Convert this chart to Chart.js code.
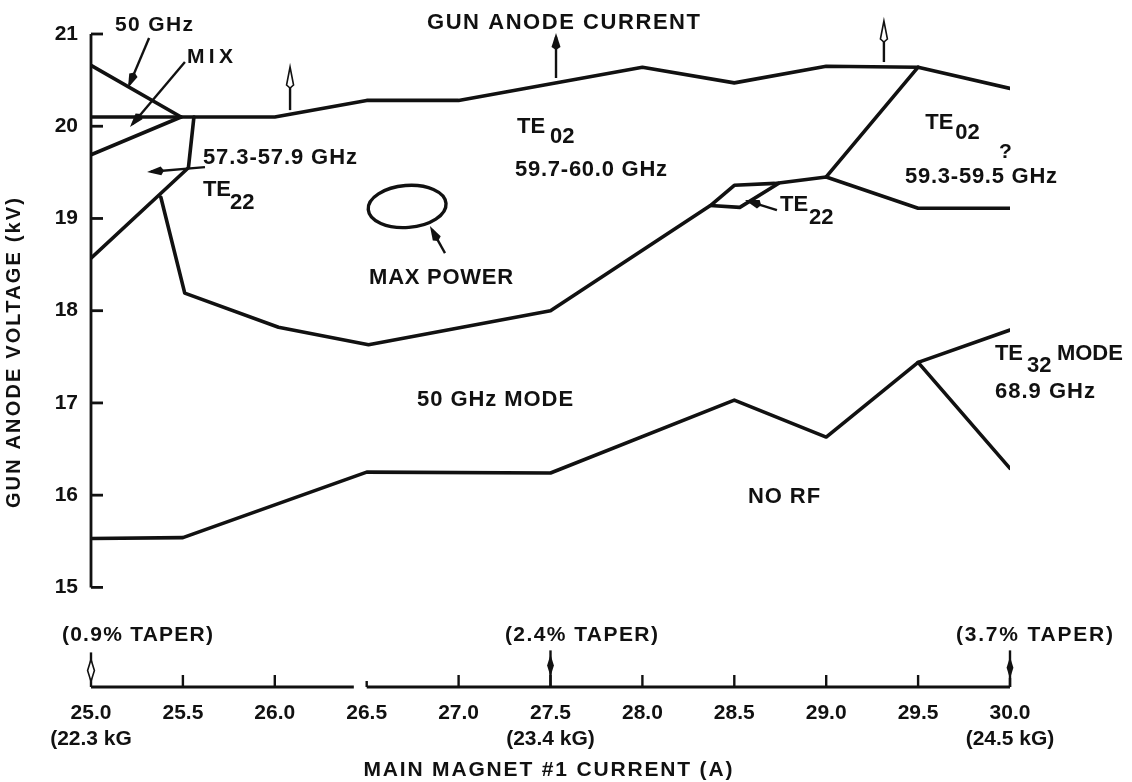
<!DOCTYPE html>
<html>
<head>
<meta charset="utf-8">
<script src="https://cdn.jsdelivr.net/npm/chart.js@4.4.1/dist/chart.umd.min.js"></script>
<style>
html,body{margin:0;padding:0;background:#fff;}
#wrap{width:1132px;height:782px;position:relative;}
</style>
</head>
<body>
<div id="wrap"><canvas id="c" width="1132" height="782"></canvas></div>
<script>
// ---------------- data ----------------
const xTicks = [25.0, 25.5, 26.0, 26.5, 27.0, 27.5, 28.0, 28.5, 29.0, 29.5, 30.0];
const yTicks = [15, 16, 17, 18, 19, 20, 21];
const kgTickValues = [25.0, 27.5, 30.0];
const kgTickLabels = ['(22.3 kG', '(23.4 kG)', '(24.5 kG)'];

// gun anode current limit (top boundary)
const anodeLimitA = [25.0, 26.0, 26.5, 27.0, 28.0, 28.5, 29.0, 29.5, 30.0];
const anodeLimitV = [20.10, 20.10, 20.28, 20.28, 20.64, 20.47, 20.65, 20.64, 20.41];
// 50 GHz / MIX boundaries (upper left)
const ghz50A = [25.0, 25.49];
const ghz50V = [20.66, 20.10];
const mixA = [25.0, 25.49];
const mixV = [19.69, 20.10];
// TE22 (57.3-57.9 GHz) boundary
const te22A = [25.56, 25.53, 25.0];
const te22V = [20.10, 19.55, 18.57];
// lower boundary of TE02 region
const te02LowA = [25.38, 25.51, 26.02, 26.51, 27.5, 28.37, 28.5, 28.72, 29.0, 29.5, 30.0];
const te02LowV = [19.23, 18.19, 17.82, 17.63, 18.0, 19.14, 19.36, 19.38, 19.45, 19.11, 19.11];
// small TE22 loop
const te22LoopA = [28.37, 28.53, 28.74];
const te22LoopV = [19.14, 19.12, 19.38];
// TE02 (59.7-60.0) / TE02 ? (59.3-59.5) divider
const te02SplitA = [29.0, 29.5];
const te02SplitV = [19.45, 20.64];
// 50 GHz mode / no RF boundary and TE32 mode
const noRfA = [25.0, 25.5, 26.5, 27.5, 28.5, 29.0, 29.5, 30.0];
const noRfV = [15.53, 15.54, 16.25, 16.24, 17.03, 16.63, 17.44, 17.79];
const te32A = [29.5, 30.0];
const te32V = [17.44, 16.29];

const Y_MIN = 13.92, Y_MAX = 21, X_MIN = 25, X_MAX = 30;

// ---------------- helpers ----------------
const FONT = '"Liberation Sans", Arial, Helvetica, sans-serif';
const INK = '#111';
function pts(a, v) { return a.map((x, i) => ({ x: x, y: v[i] })); }
function ds(label, a, v) {
  return { label, data: pts(a, v), borderColor: INK, borderWidth: 3.6, pointRadius: 0,
           tension: 0, fill: false, borderJoinStyle: 'round', borderCapStyle: 'round' };
}

// annotation text (positions given in data units, converted by the scales)
const textItems = [
  { t: '50 GHz', a: 25.131, v: 21.098, w: 78, s: 21 },
  { t: 'MIX', a: 25.522, v: 20.750, w: 46, s: 21 },
  { t: 'GUN ANODE CURRENT', a: 26.828, v: 21.119, w: 273, s: 22 },
  { t: '57.3-57.9 GHz', a: 25.609, v: 19.655, w: 154, s: 22 },
  { t: '59.7-60.0 GHz', a: 27.307, v: 19.524, w: 152, s: 22 },
  { t: 'MAX POWER', a: 26.513, v: 18.353, w: 144, s: 22 },
  { t: '50 GHz MODE', a: 26.774, v: 17.029, w: 156, s: 22 },
  { t: 'NO RF', a: 28.575, v: 15.977, w: 72, s: 22 },
  { t: '68.9 GHz', a: 29.918, v: 17.116, w: 100, s: 22 },
  { t: '59.3-59.5 GHz', a: 29.429, v: 19.449, w: 152, s: 22 },
  { t: '?', a: 29.94, v: 19.72, s: 21 },
  { t: '(0.9% TAPER)', a: 24.842, v: 14.479, w: 151, s: 21 },
  { t: '(2.4% TAPER)', a: 27.252, v: 14.479, w: 153, s: 21 },
  { t: '(3.7% TAPER)', a: 29.706, v: 14.479, w: 157, s: 21 }
];
const subItems = [
  { t: 'TE', sub: '22', a: 25.609, v: 19.307, dx: 27, dy: 13 },
  { t: 'TE', sub: '02', a: 27.318, v: 19.991, dx: 33, dy: 10 },
  { t: 'TE', sub: '02', a: 29.539, v: 20.034, dx: 30, dy: 10 },
  { t: 'TE', sub: '22', a: 28.749, v: 19.145, dx: 29, dy: 13 },
  { t: 'TE', sub: '32', a: 29.918, v: 17.528, dx: 32, dy: 12, tail: 'MODE', tdx: 62, tw: 66 }
];
const arrowItems = [
  { from: [26.083, 20.175], to: [26.083, 20.642], head: 'hollow' },
  { from: [27.53, 20.523], to: [27.53, 21.011], head: 'solid' },
  { from: [29.314, 20.696], to: [29.314, 21.141], head: 'hollow' },
  { from: [25.316, 20.957], to: [25.201, 20.414], head: 'solid' },
  { from: [25.511, 20.696], to: [25.212, 19.991], head: 'solid' },
  { from: [25.620, 19.557], to: [25.305, 19.503], head: 'solid' },
  { from: [28.732, 19.090], to: [28.558, 19.199], head: 'solid' },
  { from: [26.926, 18.624], to: [26.844, 18.917], head: 'solid' }
];
const taperArrows = [
  { a: 25.0, top: 14.295, mid: 14.100, fill: false },
  { a: 27.5, top: 14.317, mid: 14.154, fill: true },
  { a: 30.0, top: 14.317, mid: 14.130, fill: true }
];
const maxPowerEllipse = { a: 26.72, v: 19.13, rx: 39, ry: 21, rot: -0.08 };

function fitText(ctx, text, x, y, size, targetW, align) {
  ctx.font = 'bold ' + size + 'px ' + FONT;
  ctx.letterSpacing = '0px';
  const w0 = ctx.measureText(text).width;
  let ls = 0;
  if (targetW && text.length > 1) ls = Math.max(-1, Math.min(6, (targetW - w0) / (text.length - 1)));
  const total = w0 + ls * (text.length - 1);
  ctx.letterSpacing = ls + 'px';
  ctx.textAlign = 'left';
  ctx.textBaseline = 'middle';
  ctx.fillStyle = INK;
  ctx.fillText(text, align === 'center' ? x - total / 2 : x, y);
  ctx.letterSpacing = '0px';
}

function drawHead(ctx, x1, y1, x2, y2, type) {
  const dx = x2 - x1, dy = y2 - y1, L = Math.hypot(dx, dy) || 1;
  const ux = dx / L, uy = dy / L, nx = -uy, ny = ux;
  const len = type === 'hollow' ? 18 : 14, hw = type === 'hollow' ? 3.5 : 4.5;
  const bx = x2 - ux * len, by = y2 - uy * len;
  ctx.beginPath();
  ctx.moveTo(x2, y2);
  ctx.lineTo(bx + nx * hw, by + ny * hw);
  ctx.lineTo(bx - ux * 3 , by - uy * 3);
  ctx.lineTo(bx - nx * hw, by - ny * hw);
  ctx.closePath();
  if (type === 'hollow') {
    ctx.fillStyle = '#fff'; ctx.fill();
    ctx.lineWidth = 1.6; ctx.strokeStyle = INK; ctx.stroke();
  } else {
    ctx.fillStyle = INK; ctx.fill();
  }
  return [bx, by];
}

const annotationPlugin = {
  id: 'figureAnnotations',
  afterDraw(chart) {
    const ctx = chart.ctx, xs = chart.scales.x, ys = chart.scales.y;
    const px = a => xs.getPixelForValue(a), py = v => ys.getPixelForValue(v);
    ctx.save();
    ctx.strokeStyle = INK; ctx.fillStyle = INK; ctx.lineCap = 'butt';

    // y axis line (15..21) with inward ticks
    const ax = px(X_MIN);
    ctx.lineWidth = 2.8;
    ctx.beginPath(); ctx.moveTo(ax, py(yTicks[0])); ctx.lineTo(ax, py(yTicks[yTicks.length - 1])); ctx.stroke();
    yTicks.forEach(v => { ctx.beginPath(); ctx.moveTo(ax, py(v)); ctx.lineTo(ax + 12, py(v)); ctx.stroke(); });

    // x axis line (with the break before 26.5) and upward ticks
    const by = py(Y_MIN);
    ctx.lineWidth = 2.8;
    ctx.beginPath(); ctx.moveTo(px(25.0), by); ctx.lineTo(px(26.43), by); ctx.stroke();
    ctx.beginPath(); ctx.moveTo(px(26.5), by); ctx.lineTo(px(30.0), by); ctx.stroke();
    ctx.lineWidth = 2.4;
    xTicks.forEach(v => {
      if (v === 25.0) return;
      const len = v === 26.5 ? 6 : (v === 30.0 ? 9 : 12);
      ctx.beginPath(); ctx.moveTo(px(v), by); ctx.lineTo(px(v), by - len); ctx.stroke();
    });

    // taper arrows down to the axis
    taperArrows.forEach(t => {
      const x = px(t.a), yt = py(t.top), ym = py(t.mid);
      ctx.lineWidth = 2.4;
      ctx.beginPath(); ctx.moveTo(x, yt); ctx.lineTo(x, by); ctx.stroke();
      ctx.beginPath();
      ctx.moveTo(x, ym - 11); ctx.lineTo(x + 3.4, ym); ctx.lineTo(x, ym + 11); ctx.lineTo(x - 3.4, ym); ctx.closePath();
      if (t.fill) { ctx.fillStyle = INK; ctx.fill(); }
      else { ctx.fillStyle = '#fff'; ctx.fill(); ctx.lineWidth = 1.6; ctx.stroke(); }
    });

    // pointer arrows
    arrowItems.forEach(ar => {
      const x1 = px(ar.from[0]), y1 = py(ar.from[1]), x2 = px(ar.to[0]), y2 = py(ar.to[1]);
      const dx = x2 - x1, dy = y2 - y1, L = Math.hypot(dx, dy);
      const stop = ar.head === 'hollow' ? 16 : 4;
      ctx.lineWidth = 2.4; ctx.strokeStyle = INK;
      ctx.beginPath(); ctx.moveTo(x1, y1); ctx.lineTo(x2 - dx / L * stop, y2 - dy / L * stop); ctx.stroke();
      drawHead(ctx, x1, y1, x2, y2, ar.head);
    });

    // max power contour
    ctx.lineWidth = 3.4; ctx.strokeStyle = INK;
    ctx.beginPath();
    ctx.ellipse(px(maxPowerEllipse.a), py(maxPowerEllipse.v), maxPowerEllipse.rx, maxPowerEllipse.ry, maxPowerEllipse.rot, 0, Math.PI * 2);
    ctx.stroke();

    // labels
    textItems.forEach(it => fitText(ctx, it.t, px(it.a), py(it.v), it.s, it.w));
    subItems.forEach(it => {
      const x = px(it.a), y = py(it.v);
      fitText(ctx, it.t, x, y, 22, 0);
      fitText(ctx, it.sub, x + it.dx, y + it.dy, 22, 0);
      if (it.tail) fitText(ctx, it.tail, x + it.tdx, y, 22, it.tw);
    });

    // axis titles
    ctx.save();
    ctx.translate(xs.left - px(X_MIN) + 14, py(17.54));
    ctx.rotate(-Math.PI / 2);
    fitText(ctx, 'GUN ANODE VOLTAGE (kV)', 0, 0, 20, 310, 'center');
    ctx.restore();
    fitText(ctx, 'MAIN MAGNET #1 CURRENT (A)', px(27.486), xs.top + 83, 21, 369, 'center');
    ctx.restore();
  }
};

const tickFont = { family: FONT, size: 21, weight: 'bold', lineHeight: 1.25 };

new Chart(document.getElementById('c'), {
  type: 'line',
  data: {
    datasets: [
      ds('Gun anode current limit', anodeLimitA, anodeLimitV),
      ds('50 GHz', ghz50A, ghz50V),
      ds('MIX', mixA, mixV),
      ds('TE22 57.3-57.9 GHz', te22A, te22V),
      ds('TE02 lower boundary', te02LowA, te02LowV),
      ds('TE22 loop', te22LoopA, te22LoopV),
      ds('TE02 split', te02SplitA, te02SplitV),
      ds('50 GHz mode / no RF', noRfA, noRfV),
      ds('TE32 mode', te32A, te32V)
    ]
  },
  options: {
    responsive: false,
    animation: false,
    devicePixelRatio: 1,
    layout: { padding: { left: 0, right: 122, top: 34, bottom: 0 } },
    plugins: { legend: { display: false }, tooltip: { enabled: false }, title: { display: false } },
    scales: {
      x: {
        type: 'linear', min: X_MIN, max: X_MAX,
        grid: { display: false, drawTicks: false },
        border: { display: false },
        afterBuildTicks: s => { s.ticks = xTicks.map(v => ({ value: v })); },
        afterFit: s => { s.height = 95; },
        ticks: {
          autoSkip: false, maxRotation: 0, padding: 13, color: INK, font: tickFont,
          callback: (value) => {
            const i = kgTickValues.findIndex(k => Math.abs(k - value) < 1e-6);
            const main = Number(value).toFixed(1);
            return i >= 0 ? [main, kgTickLabels[i]] : main;
          }
        }
      },
      y: {
        type: 'linear', min: Y_MIN, max: Y_MAX,
        grid: { display: false, drawTicks: false },
        border: { display: false },
        afterBuildTicks: s => { s.ticks = yTicks.map(v => ({ value: v })); },
        afterFit: s => { s.width = 91; },
        ticks: { autoSkip: false, padding: 13, color: INK, font: tickFont, callback: v => String(v) }
      }
    }
  },
  plugins: [annotationPlugin]
});
</script>
</body>
</html>
